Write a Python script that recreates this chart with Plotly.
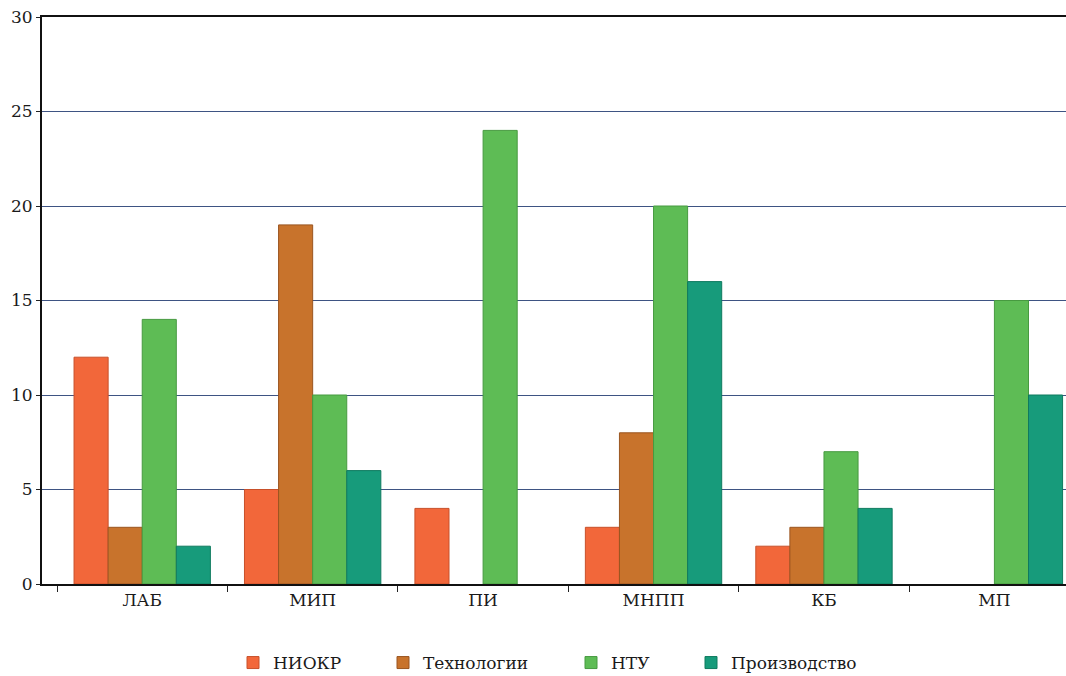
import plotly.graph_objects as go

categories = ["ЛАБ", "МИП", "ПИ", "МНПП", "КБ", "МП"]
niokr = [12, 5, 4, 3, 2, 0]
tech = [3, 19, 0, 8, 3, 0]
ntu = [14, 10, 24, 20, 7, 15]
prod = [2, 6, 0, 16, 4, 10]
y_ticks = [0, 5, 10, 15, 20, 25, 30]

series = [
    ("НИОКР", niokr, "#F2673A", "#C8502A", "legend"),
    ("Технологии", tech, "#C8732C", "#9A5520", "legend2"),
    ("НТУ", ntu, "#5EBC55", "#479A40", "legend3"),
    ("Производство", prod, "#179B7B", "#0F7A5F", "legend4"),
]

FONT = "DejaVu Serif"
TXT = "#1a1a1a"

fig = go.Figure()
for name, vals, col, lcol, leg in series:
    fig.add_trace(go.Bar(
        name=name, x=categories, y=vals,
        marker=dict(color=col, line=dict(color=lcol, width=[1 if v else 0 for v in vals])),
        legend=leg,
    ))

W, H = 1066, 676
leg_px = [248, 398, 586, 706]
legs = {}
for i, key in enumerate(["legend", "legend2", "legend3", "legend4"]):
    legs[key] = dict(
        orientation="h", yanchor="middle", y=1 - 663 / H, xanchor="left",
        xref="container", yref="container", x=(leg_px[i] - 15) / W,
        font=dict(family=FONT, size=17, color=TXT),
        bgcolor="rgba(0,0,0,0)",
    )

fig.update_layout(
    width=W, height=H,
    margin=dict(l=42, r=0, t=17, b=92, autoexpand=False),
    paper_bgcolor="white", plot_bgcolor="white",
    barmode="group", bargap=0.2, bargroupgap=0,
    font=dict(family=FONT, size=17, color=TXT),
    showlegend=True,
    **legs,
)
fig.update_xaxes(
    type="category",
    range=[-0.588, 5.42],
    tickson="boundaries",
    ticks="outside", ticklen=6, tickcolor="#222222", tickwidth=1,
    showline=True, linecolor="#111111", linewidth=2,
    mirror=True,
    showgrid=False,
    tickfont=dict(family=FONT, size=17, color=TXT),
)
fig.update_yaxes(
    range=[0, 30],
    tickvals=y_ticks,
    ticks="outside", ticklen=4, tickcolor="#222222", tickwidth=1,
    showline=True, linecolor="#111111", linewidth=2,
    showgrid=True, gridcolor="#3E5383", gridwidth=1,
    zeroline=False,
    tickfont=dict(family=FONT, size=17, color=TXT),
)

fig.write_html("out.html")
